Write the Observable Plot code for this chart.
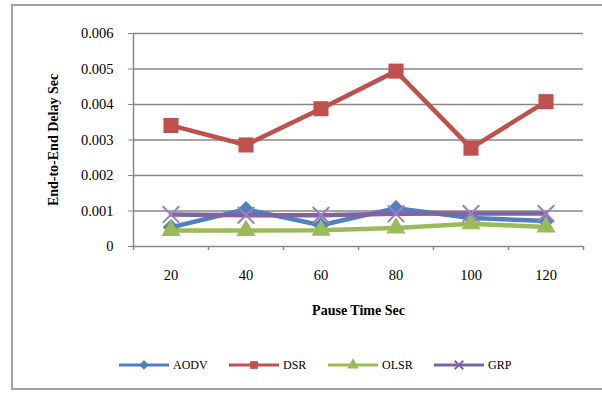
<!DOCTYPE html>
<html>
<head>
<meta charset="utf-8">
<script src="https://cdn.jsdelivr.net/npm/d3@7"></script>
<script src="https://cdn.jsdelivr.net/npm/@observablehq/plot@0.6"></script>
<style>
  html, body { margin: 0; padding: 0; background: #fff; }
  body { width: 602px; height: 393px; position: relative; overflow: hidden; font-family: "Liberation Serif", "Times New Roman", serif; }
  #frame { position: absolute; left: 11px; top: 4px; width: 640px; height: 386px; border: 2px solid #a0a0a0; box-sizing: border-box; }
  #chart { position: absolute; left: 0; top: 0; }
  #legend { position: absolute; top: 357px; left: 0; width: 602px; height: 16px; font-size: 12px; color: #000; }
  #legend .item { position: absolute; top: 0; display: flex; align-items: center; height: 16px; }
  #legend .item span { margin-left: 4px; }
</style>
</head>
<body>
<div id="frame"></div>
<div id="chart"></div>
<div id="legend"></div>
<script>
// Pause time (s) on the x axis
const pauseTimes = [20, 40, 60, 80, 100, 120];

// End-to-end delay (s) per routing protocol
const aodv = [0.00054, 0.00105, 0.00060, 0.00108, 0.00080, 0.00072];
const dsr  = [0.00341, 0.00286, 0.00388, 0.00494, 0.00277, 0.00408];
const olsr = [0.00045, 0.00045, 0.00046, 0.00052, 0.00064, 0.00055];
const grp  = [0.00090, 0.00088, 0.00088, 0.00092, 0.00093, 0.00093];

const seriesNames = ["AODV", "DSR", "OLSR", "GRP"];
const seriesValues = [aodv, dsr, olsr, grp];
const seriesColors = ["#4f81bd", "#c0504d", "#9bbb59", "#8064a2"];
const seriesSymbols = ["diamond2", "square", "triangle", "times"];
const seriesMarkerR = [7.4, 8.5, 7.1, 7.6];

const yTicks = [0, 0.001, 0.002, 0.003, 0.004, 0.005, 0.006];
// category boundaries for the x tick marks
const xBounds = [10, 30, 50, 70, 90, 110, 130];

const rows = seriesNames.flatMap((name, s) =>
  pauseTimes.map((t, i) => ({series: name, time: t, delay: seriesValues[s][i]}))
);

const gray = "#878787";

const seriesMarks = seriesNames.flatMap((name, s) => {
  const data = rows.filter(d => d.series === name);
  const isStroke = seriesSymbols[s] === "times";
  return [
    Plot.line(data, {x: "time", y: "delay", stroke: seriesColors[s], strokeWidth: 4.5, strokeLinejoin: "miter"}),
    Plot.dot(data, {
      x: "time", y: "delay", symbol: () => seriesSymbols[s], r: seriesMarkerR[s],
      fill: isStroke ? "none" : seriesColors[s],
      stroke: isStroke ? "#9b7fc4" : "none",
      strokeWidth: isStroke ? 2 : 0
    })
  ];
});

const chart = Plot.plot({
  width: 602,
  height: 335,
  marginLeft: 133,
  marginRight: 19,
  marginTop: 33,
  marginBottom: 89,
  style: {fontFamily: "'Liberation Serif', 'Times New Roman', serif", fontSize: "14.5px", background: "transparent", color: "#000"},
  x: {domain: [10, 130], axis: null},
  y: {domain: [0, 0.006], axis: null},
  symbol: {type: "identity"},
  marks: [
    Plot.ruleY(yTicks.slice(1), {stroke: gray, strokeWidth: 1.3}),
    Plot.ruleX([10], {stroke: gray, strokeWidth: 1.5}),
    Plot.ruleY([0], {stroke: gray, strokeWidth: 1.5}),
    Plot.ruleX(xBounds, {y1: 0, y2: 0, insetBottom: -4, stroke: gray, strokeWidth: 1.5}),
    Plot.axisY(yTicks, {
      tickSize: 5, tickPadding: 15, stroke: gray, fill: "#000", label: null,
      tickFormat: d => d === 0 ? "0" : d.toFixed(3)
    }),
    Plot.axisX(pauseTimes, {tickSize: 0, tickPadding: 23, fill: "#000", label: null, tickFormat: d => String(d)}),
    Plot.text(["Pause Time Sec"], {frameAnchor: "bottom", dy: 68, fontWeight: "bold", fontSize: 14}),
    Plot.text(["End-to-End Delay Sec"], {frameAnchor: "left", dx: -80, rotate: -90, textAnchor: "middle", fontWeight: "bold", fontSize: 14}),
    ...seriesMarks
  ]
});
document.getElementById("chart").append(chart);

// Legend below the chart
const legend = d3.select("#legend");
const legendX = [119, 229, 328, 434];
const symbolTypes = {diamond2: d3.symbolDiamond2, square: d3.symbolSquare, triangle: d3.symbolTriangle, times: d3.symbolTimes};
seriesNames.forEach((name, s) => {
  const item = legend.append("div").attr("class", "item").style("left", legendX[s] + "px");
  const svg = item.append("svg").attr("width", 50).attr("height", 16);
  svg.append("line").attr("x1", 0).attr("x2", 50).attr("y1", 8).attr("y2", 8)
    .attr("stroke", seriesColors[s]).attr("stroke-width", 3);
  const isStroke = seriesSymbols[s] === "times";
  svg.append("path")
    .attr("transform", "translate(25,8)")
    .attr("d", d3.symbol(symbolTypes[seriesSymbols[s]], isStroke ? 50 : 60)())
    .attr("fill", isStroke ? "none" : seriesColors[s])
    .attr("stroke", isStroke ? seriesColors[s] : "none")
    .attr("stroke-width", isStroke ? 2 : 0);
  item.append("span").text(name);
});
</script>
</body>
</html>
